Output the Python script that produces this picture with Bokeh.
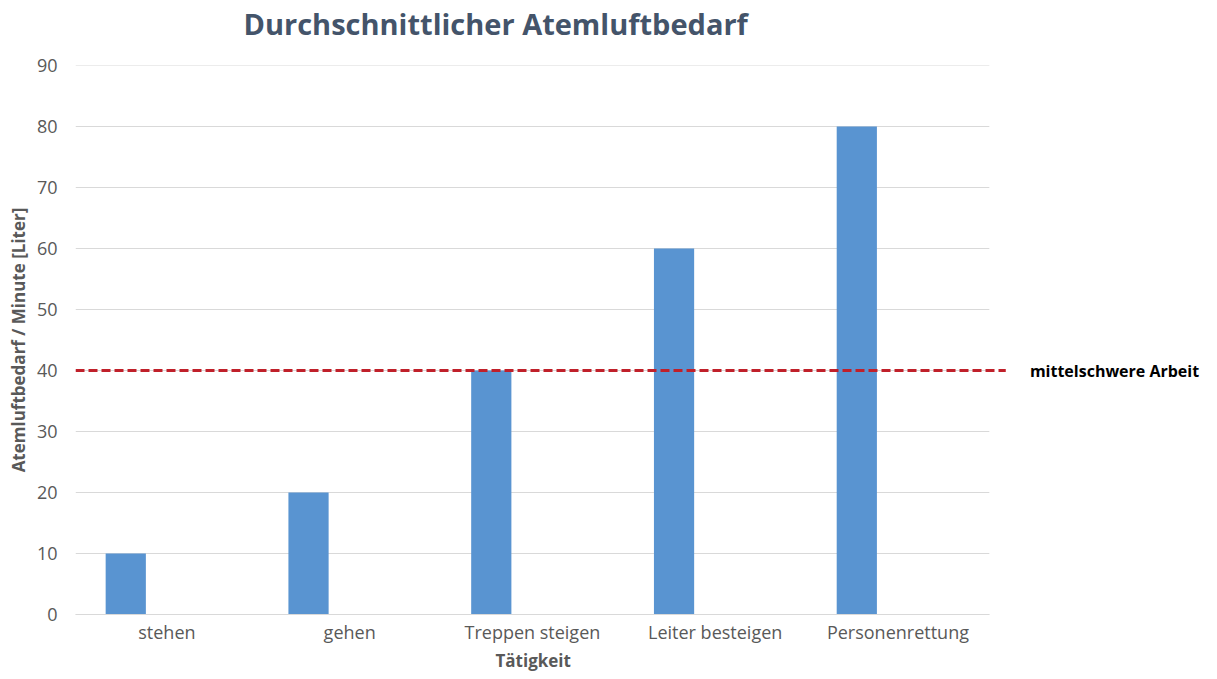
from bokeh.plotting import figure
from bokeh.models import Range1d, FixedTicker, Label, ColumnDataSource, Title
from bokeh.embed import file_html
from bokeh.resources import INLINE

# ---- data ----
categories = ["stehen", "gehen", "Treppen steigen", "Leiter besteigen", "Personenrettung"]
air_demand = [10, 20, 40, 60, 80]
y_ticks = [0, 10, 20, 30, 40, 50, 60, 70, 80, 90]
threshold = 40
threshold_label = "mittelschwere Arbeit"
title_text = "Durchschnittlicher Atemluftbedarf"
x_label = "Tätigkeit"
y_label = "Atemluftbedarf / Minute [Liter]"

FONT = "Open Sans"
GRAY = "#595959"

xs = list(range(len(categories)))
bar_x = [x - 0.225 for x in xs]

p = figure(width=1201, height=671, output_backend="svg", toolbar_location=None, title=None,
           x_range=Range1d(-0.5, 5.661), y_range=Range1d(0, 90),
           min_border_left=75, min_border_right=0, min_border_top=65, min_border_bottom=57)
p.outline_line_color = None
p.background_fill_color = "white"
p.border_fill_color = "white"
p.xgrid.visible = False
p.ygrid.visible = False

# horizontal gridlines from tick values
p.segment(x0=[-0.5] * len(y_ticks), x1=[4.5] * len(y_ticks), y0=y_ticks, y1=y_ticks,
          line_color="#D9D9D9", line_width=1)

# bars
src = ColumnDataSource(dict(x=bar_x, top=air_demand))
p.vbar(x="x", top="top", bottom=0, width=0.22, source=src,
       fill_color="#5994D1", line_color=None)

# threshold line
p.segment(x0=[-0.5], x1=[4.59], y0=[threshold], y1=[threshold],
          line_color="#C0202A", line_width=3, line_dash="9 4")
p.add_layout(Label(x=4.722, y=threshold, text=threshold_label, text_font=FONT,
                   text_font_size="16px", text_font_style="bold", text_color="black",
                   text_baseline="middle", text_align="left"))

# title: spacer (closest to frame) + real title above it
p.add_layout(Title(text=" ", text_font_size="1px", standoff=16), "above")
p.add_layout(Title(text=title_text, text_font=FONT, text_font_size="29px",
                   text_font_style="bold", text_color="#44546A",
                   align="left", vertical_align="top", offset=168, standoff=4), "above")

# x axis
xa = p.xaxis[0]
xa.ticker = FixedTicker(ticks=xs)
xa.major_label_overrides = {i: c for i, c in enumerate(categories)}
xa.bounds = (-0.5, 4.5)
xa.axis_line_color = "#D9D9D9"
xa.major_tick_line_color = None
xa.major_tick_out = 0
xa.major_tick_in = 0
xa.minor_tick_line_color = None
xa.major_label_text_font = FONT
xa.major_label_text_font_size = "18px"
xa.major_label_text_color = GRAY
xa.major_label_standoff = 5

# x axis title as a below-title, left-aligned with offset so it sits under the category span
p.add_layout(Title(text=x_label, text_font=FONT, text_font_size="17px",
                   text_font_style="bold", text_color=GRAY,
                   align="left", offset=420, standoff=0), "below")

# y axis
ya = p.yaxis[0]
ya.ticker = FixedTicker(ticks=y_ticks)
ya.axis_line_color = None
ya.major_tick_line_color = None
ya.major_tick_out = 0
ya.major_tick_in = 0
ya.minor_tick_line_color = None
ya.major_label_text_font = FONT
ya.major_label_text_font_size = "18px"
ya.major_label_text_color = GRAY
ya.major_label_standoff = 18
ya.axis_label = y_label
ya.axis_label_text_font = FONT
ya.axis_label_text_font_size = "17px"
ya.axis_label_text_font_style = "bold"
ya.axis_label_text_color = GRAY
ya.axis_label_standoff = 4

open("out.html", "w").write(file_html(p, INLINE))
